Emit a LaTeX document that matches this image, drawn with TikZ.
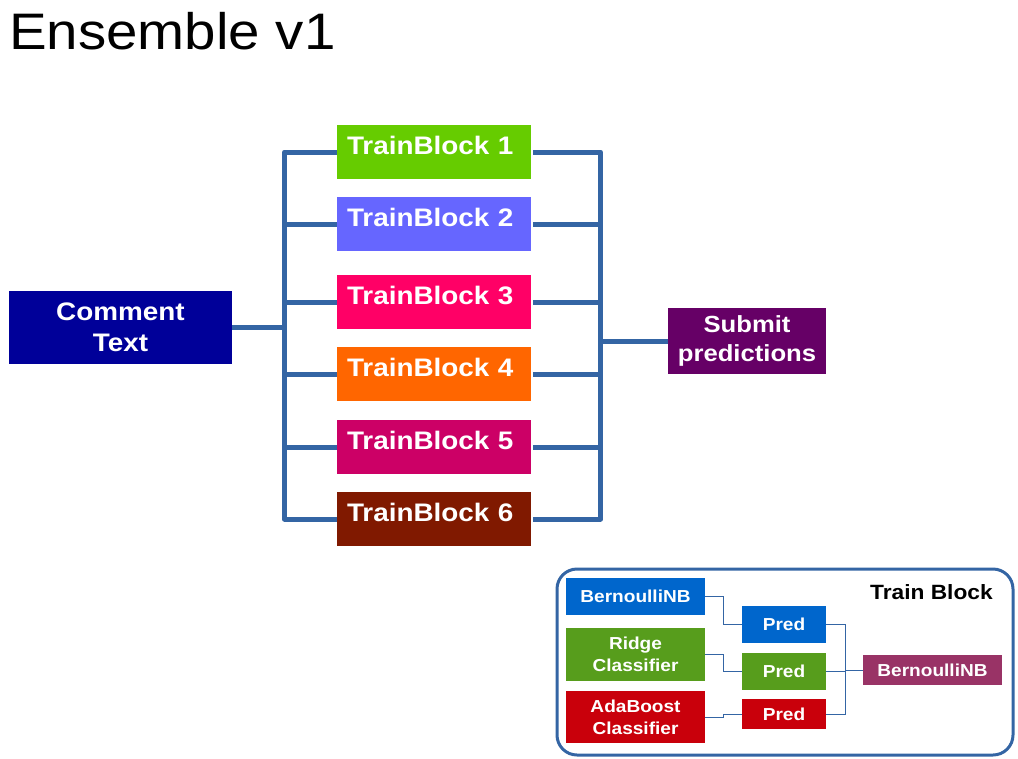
\documentclass[tikz,border=0pt]{standalone}
\usepackage{fontspec}
\setmainfont{Liberation Sans}[FakeStretch=1.1]
\usetikzlibrary{positioning}

\definecolor{cmtblue}{HTML}{000099}
\definecolor{tbone}{HTML}{66CC00}
\definecolor{tbtwo}{HTML}{6666FF}
\definecolor{tbthree}{HTML}{FF0066}
\definecolor{tbfour}{HTML}{FF6600}
\definecolor{tbfive}{HTML}{CC0066}
\definecolor{tbsix}{HTML}{801900}
\definecolor{submitpurple}{HTML}{660066}
\definecolor{linkblue}{HTML}{3465A4}
\definecolor{nbblue}{HTML}{0066CC}
\definecolor{ridgegreen}{HTML}{579D1C}
\definecolor{adared}{HTML}{C9000B}
\definecolor{stackplum}{HTML}{993366}

\begin{document}
\begin{tikzpicture}[
    x=0.75pt, y=-0.75pt,
    bigbox/.style={rectangle, text=white, font=\bfseries\fontsize{19pt}{23pt}\selectfont, align=center},
    trainbox/.style={rectangle, text=white, font=\bfseries\fontsize{19pt}{22pt}\selectfont,
        align=left, text width=130.5pt, inner xsep=7.5pt, text height=13.5pt, text depth=9.5pt,
        minimum height=40.5pt},
    smallbox/.style={rectangle, text=white, font=\bfseries\fontsize{13pt}{16.5pt}\selectfont, align=center},
    bus/.style={draw=linkblue, line width=3.75pt, line join=round},
    thinlink/.style={draw=linkblue, line width=0.75pt}
]
\useasboundingbox (0,0) rectangle (1018,758);

% Title
\node[anchor=base west, inner sep=0pt, font=\fontsize{38.5pt}{46pt}\selectfont] (title) at (9,49) {Ensemble v1};

% Nodes
\node[bigbox, fill=cmtblue, minimum width=167.25pt, minimum height=54.75pt] (cmt) at (120.5,327.5) {Comment\\Text};

\node[trainbox, fill=tbone] (tb1) at (434,152) {TrainBlock 1};
\node[trainbox, fill=tbtwo] (tb2) at (434,224) {TrainBlock 2};
\node[trainbox, fill=tbthree] (tb3) at (434,302) {TrainBlock 3};
\node[trainbox, fill=tbfour] (tb4) at (434,374) {TrainBlock 4};
\node[trainbox, fill=tbfive] (tb5) at (434,447) {TrainBlock 5};
\node[trainbox, fill=tbsix] (tb6) at (434,519) {TrainBlock 6};

\node[bigbox, fill=submitpurple, minimum width=118.5pt, minimum height=49.5pt,
    font=\bfseries\fontsize{17.5pt}{21.5pt}\selectfont] (sub) at (747,341) {Submit\\predictions};

\coordinate (lbus) at (284.5,327);
\coordinate (rbus) at (600.5,341);

% Edges
\draw[bus] (cmt.east |- lbus) -- (lbus);
\draw[bus] (tb1.west) -- (tb1.west -| lbus) -- (tb6.west -| lbus) -- (tb6.west);
\foreach \i in {2,...,5}
    \draw[bus] (tb\i.west) -- (tb\i.west -| lbus);
\draw[bus] ([xshift=1.5pt]tb1.east) -- (tb1.east -| rbus) -- (tb6.east -| rbus) -- ([xshift=1.5pt]tb6.east);
\foreach \i in {2,...,5}
    \draw[bus] ([xshift=1.5pt]tb\i.east) -- (tb\i.east -| rbus);
\draw[bus] (rbus) -- (sub.west);

% Train block detail
\draw[linkblue, line width=2.25pt, rounded corners=15pt] (557,569) rectangle (1013,755);
\node[anchor=base east, inner sep=0pt, font=\bfseries\fontsize{15.5pt}{18pt}\selectfont] (tblabel) at (993,599) {Train Block};

\node[smallbox, fill=nbblue, minimum width=104.25pt, minimum height=27.75pt] (bnb) at (635.5,596.5) {BernoulliNB};
\node[smallbox, fill=ridgegreen, minimum width=104.25pt, minimum height=39.75pt] (ridge) at (635.5,654.5) {Ridge\\Classifier};
\node[smallbox, fill=adared, minimum width=104.25pt, minimum height=39pt] (ada) at (635.5,717) {AdaBoost\\Classifier};

\node[smallbox, fill=nbblue, minimum width=63pt, minimum height=27.75pt] (pred1) at (784,624.5) {Pred};
\node[smallbox, fill=ridgegreen, minimum width=63pt, minimum height=27.75pt] (pred2) at (784,671.5) {Pred};
\node[smallbox, fill=adared, minimum width=63pt, minimum height=22.5pt] (pred3) at (784,714) {Pred};

\node[smallbox, fill=stackplum, minimum width=104.25pt, minimum height=22.5pt] (fin) at (932.5,670) {BernoulliNB};

\draw[thinlink] (bnb.east) -- ++(18.5,0) |- (pred1.west);
\draw[thinlink] (ridge.east) -- ++(18.5,0) |- (pred2.west);
\draw[thinlink] (ada.east) -- ++(18.5,0) |- (pred3.west);
\draw[thinlink] (pred1.east) -- ++(19,0) |- (fin.west);
\draw[thinlink] (pred2.east) -- ++(19,0) |- (fin.west);
\draw[thinlink] (pred3.east) -- ++(19,0) |- (fin.west);

\end{tikzpicture}
\end{document}
